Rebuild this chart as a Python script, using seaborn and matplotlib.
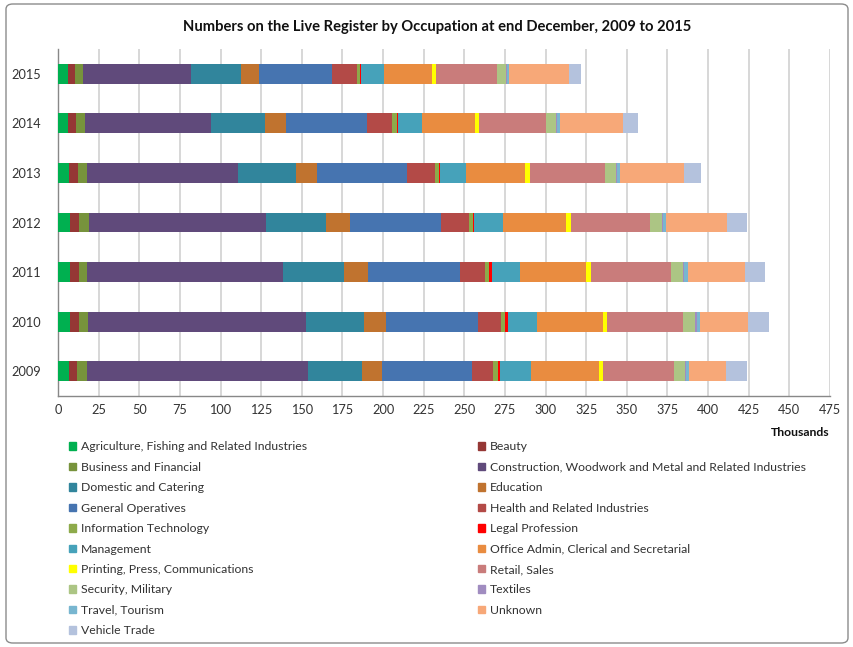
import matplotlib
matplotlib.use("Agg")
import matplotlib.pyplot as plt
import matplotlib.patches as mpatches
import numpy as np
import pandas as pd
import seaborn as sns

years = ["2015", "2014", "2013", "2012", "2011", "2010", "2009"]

categories = [
    "Agriculture, Fishing and Related Industries",
    "Beauty",
    "Business and Financial",
    "Construction, Woodwork and Metal and Related Industries",
    "Domestic and Catering",
    "Education",
    "General Operatives",
    "Health and Related Industries",
    "Information Technology",
    "Legal Profession",
    "Management",
    "Office Admin, Clerical and Secretarial",
    "Printing, Press, Communications",
    "Retail, Sales",
    "Security, Military",
    "Textiles",
    "Travel, Tourism",
    "Unknown",
    "Vehicle Trade",
]

# values in thousands, order: 2015, 2014, 2013, 2012, 2011, 2010, 2009
agriculture = [6.0, 6.2, 6.6, 7.6, 7.6, 7.6, 7.0]
beauty = [4.3, 5.1, 5.9, 5.5, 5.5, 5.5, 4.7]
business = [5.1, 5.5, 5.5, 5.9, 4.9, 5.5, 5.9]
construction = [66.4, 77.6, 92.9, 109.2, 120.3, 133.9, 136.3]
domestic = [30.8, 33.2, 35.7, 36.5, 37.4, 35.6, 33.3]
education = [11.2, 12.7, 13.0, 14.7, 14.9, 13.9, 12.4]
general_ops = [44.8, 49.7, 55.4, 56.4, 56.5, 56.4, 55.2]
health = [15.3, 15.7, 16.8, 16.8, 15.8, 14.1, 12.6]
info_tech = [1.8, 2.6, 2.4, 2.6, 2.5, 2.7, 3.1]
legal = [0.8, 1.0, 1.0, 1.0, 1.4, 1.6, 1.6]
management = [13.9, 14.7, 16.1, 17.5, 17.7, 17.9, 18.7]
office_admin = [29.9, 32.6, 36.3, 39.1, 40.6, 40.8, 42.0]
printing = [2.5, 2.7, 2.6, 2.9, 2.8, 2.4, 2.5]
retail = [37.1, 40.9, 46.1, 48.3, 49.4, 46.9, 43.8]
security = [5.9, 6.3, 7.1, 7.9, 7.5, 7.3, 6.7]
textiles = [0.5, 0.5, 0.5, 0.5, 0.6, 1.2, 0.6]
travel = [1.5, 1.8, 2.0, 2.0, 2.0, 1.7, 2.0]
unknown = [36.5, 39.1, 39.5, 37.3, 35.3, 29.7, 22.5]
vehicle = [7.5, 8.8, 10.4, 12.2, 12.4, 12.5, 13.0]

series = [agriculture, beauty, business, construction, domestic, education,
          general_ops, health, info_tech, legal, management, office_admin,
          printing, retail, security, textiles, travel, unknown, vehicle]

colors = ["#00B050", "#953735", "#77933C", "#604A7B", "#31859C", "#C0732F",
          "#4674B0", "#B34A47", "#8DAA4A", "#FF0000", "#46A2BA", "#E98C40",
          "#FFFF00", "#C97C7B", "#ACC584", "#A08CC0", "#78B6D0", "#F7A878",
          "#B4C2DD"]

x_ticks = list(range(0, 476, 25))

sns.set_style("white")
plt.rcParams["font.family"] = ["Lato", "DejaVu Sans"]

df = pd.DataFrame({"Year": years})
cum = np.zeros(len(years))
for i, s in enumerate(series):
    cum = cum + np.array(s)
    df[f"c{i}"] = cum

fig = plt.figure(figsize=(8.54, 6.47), dpi=100)
ax = fig.add_axes([58 / 854, 1 - 396 / 647, (830 - 58) / 854, (396 - 49) / 647])

for i in reversed(range(len(series))):
    sns.barplot(data=df, x=f"c{i}", y="Year", order=years, orient="h",
                color=colors[i], saturation=1, width=0.4, errorbar=None,
                linewidth=0, ax=ax, zorder=3)

ax.set_xlim(0, 475)
ax.set_ylim(6.5, -0.5)
ax.set_xticks(x_ticks)
ax.set_xticklabels([str(t) for t in x_ticks], fontsize=9.2, color="#333333")
ax.set_xlabel("")
ax.set_ylabel("")
ax.tick_params(axis="y", which="major", length=0, pad=12, labelsize=9.2,
               labelcolor="#333333")
ax.set_yticks(np.arange(-0.5, 7.0, 1.0), minor=True)
ax.tick_params(axis="y", which="minor", length=4, color="#888888", direction="out")
ax.tick_params(axis="x", length=5, direction="inout", color="#888888", pad=3)
ax.grid(axis="x", color="#D4D4D4", linewidth=1.3, zorder=0)
ax.grid(axis="y", visible=False)
ax.set_axisbelow(True)
for sp in ["top", "right"]:
    ax.spines[sp].set_visible(False)
for sp in ["left", "bottom"]:
    ax.spines[sp].set_color("#888888")
    ax.spines[sp].set_linewidth(1.0)

fig.text(437 / 854, 1 - 27 / 647,
         "Numbers on the Live Register by Occupation at end December, 2009 to 2015",
         ha="center", va="center", fontsize=10.6, fontweight="bold", color="#111111")
fig.text(830 / 854, 1 - 433 / 647, "Thousands", ha="right", va="center",
         fontsize=8.8, fontweight="bold", color="#111111")

handles = [mpatches.Patch(color=c, label=l) for c, l in zip(colors, categories)]
left_h = handles[0::2]
right_h = handles[1::2]
common = dict(frameon=False, fontsize=8.8, handlelength=0.55, handleheight=0.55,
              handletextpad=0.4, labelspacing=0.77, borderpad=0, borderaxespad=0,
              loc="upper left", labelcolor="#333333")
fig.legend(handles=left_h, bbox_to_anchor=(69 / 854, 1 - 441.5 / 647), **common)
fig.legend(handles=right_h, bbox_to_anchor=(478 / 854, 1 - 441.5 / 647), **common)

border = mpatches.FancyBboxPatch((6 / 854, 4 / 647), 842 / 854, 639 / 647,
                                 boxstyle="round,pad=0,rounding_size=0.008",
                                 transform=fig.transFigure, fill=False,
                                 edgecolor="#8C8C8C", linewidth=1.0)
fig.patches.append(border)

fig.savefig("out.png", dpi=100)
